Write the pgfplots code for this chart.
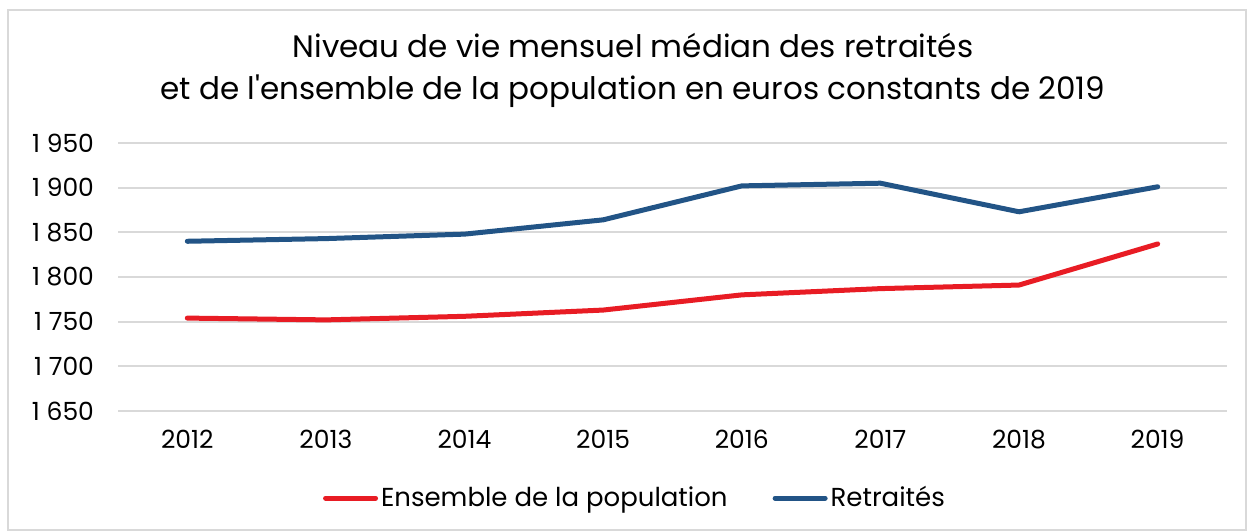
\documentclass[border=0pt]{standalone}
\usepackage{pgfplots}
\pgfplotsset{compat=1.18}
\usepackage{fontspec}
\setmainfont{Poppins}
\definecolor{cred}{RGB}{232,28,36}
\definecolor{cblue}{RGB}{34,84,134}
\definecolor{cgrid}{RGB}{217,217,217}
\begin{document}
\begin{tikzpicture}
\useasboundingbox (0pt,0pt) rectangle (626pt,265.5pt);
\draw[cgrid, line width=1pt] (4pt,0.5pt) rectangle (623pt,260.5pt);
\node[align=center, font=\fontsize{15.5}{21}\selectfont, text=black] at (316.5pt,230.5pt) {Niveau de vie mensuel médian des retraités\\et de l\textquotesingle ensemble de la population en euros constants de 2019};
\begin{axis}[
  at={(59pt,60pt)}, anchor=south west,
  scale only axis, width=554.5pt, height=134pt,
  xmin=2011.5, xmax=2019.5, ymin=1650, ymax=1950,
  xtick={2012,...,2019}, ytick={1650,1700,...,1950},
  axis line style={draw=none}, tick style={draw=none},
  ymajorgrids, grid style={cgrid, line width=1pt},
  xticklabel style={font=\fontsize{12.5}{15}\selectfont, yshift=-6pt},
  yticklabel style={font=\fontsize{12.5}{15}\selectfont, xshift=-8.5pt},
  /pgf/number format/.cd, assume math mode=true, 1000 sep={\ }, /pgfplots/.cd,
  xticklabel={\pgfmathprintnumber[1000 sep=]{\tick}},
  legend columns=2,
  legend style={draw=none, font=\fontsize{13}{15}\selectfont, at={(0.4666,-0.325)}, anchor=center, nodes={inner sep=1.5pt}, /tikz/every even column/.append style={column sep=21pt}},
  legend image code/.code={\draw[#1, line cap=round] (0pt,0pt) -- (25pt,0pt);},
  legend cell align=left,
]
\addplot[cred, line width=2.5pt, line cap=round, line join=round] coordinates {
(2012,1754) (2013,1752) (2014,1756) (2015,1763) (2016,1780) (2017,1787) (2018,1791) (2019,1837)};
\addlegendentry{Ensemble de la population}
\addplot[cblue, line width=2.5pt, line cap=round, line join=round] coordinates {
(2012,1840) (2013,1843) (2014,1848) (2015,1864) (2016,1902) (2017,1905) (2018,1873) (2019,1901)};
\addlegendentry{Retraités}
\end{axis}
\end{tikzpicture}
\end{document}
